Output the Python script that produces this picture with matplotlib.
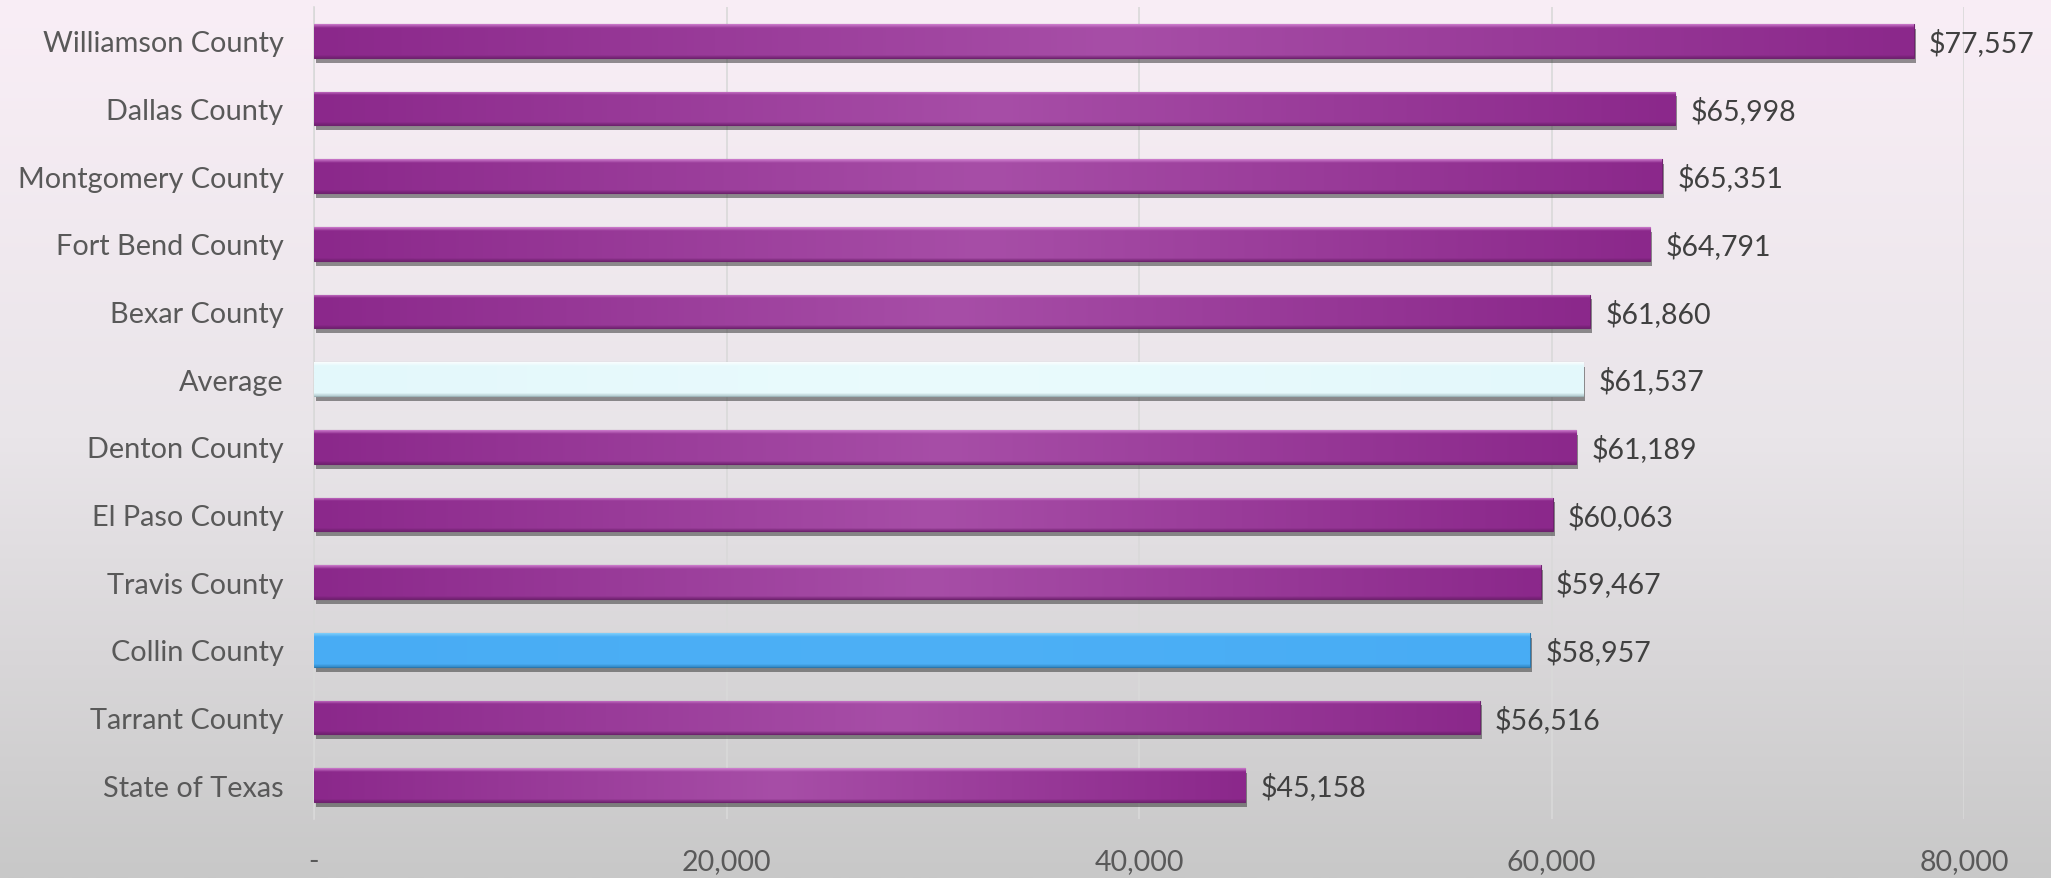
import numpy as np
import matplotlib
matplotlib.use("Agg")
import matplotlib.pyplot as plt
import matplotlib.patheffects as pe
from matplotlib.colors import to_rgb

# ---- data ----
categories = ["Williamson County", "Dallas County", "Montgomery County", "Fort Bend County",
              "Bexar County", "Average", "Denton County", "El Paso County", "Travis County",
              "Collin County", "Tarrant County", "State of Texas"]
values = [77557, 65998, 65351, 64791, 61860, 61537, 61189, 60063, 59467, 58957, 56516, 45158]
xticks = [0, 20000, 40000, 60000, 80000]
xtick_labels = ["-", "20,000", "40,000", "60,000", "80,000"]

plt.rcParams['font.family'] = ['Lato', 'DejaVu Sans']

W, H, DPI = 2051, 879, 100
fig = plt.figure(figsize=(W / DPI, H / DPI), dpi=DPI)

# background gradient
bg = fig.add_axes([0, 0, 1, 1], zorder=-10)
stops_pos = [0.0, 0.5, 1.0]
stops_col = np.array([[249, 238, 246], [233, 229, 233], [200, 200, 200]]) / 255.0
t = np.linspace(0, 1, 400)
grad = np.stack([np.interp(t, stops_pos, stops_col[:, c]) for c in range(3)], axis=1)
bg.imshow(grad[:, None, :], aspect='auto', extent=[0, 1, 0, 1], origin='upper')
bg.set_axis_off()

ax = fig.add_axes([314 / W, 1 - 820 / H, (1964 - 314) / W, (820 - 8) / H])
ax.patch.set_alpha(0)

n = len(categories)
ypos = np.arange(n)
bar_h = 0.5


def style_for(name):
    if name == "Average":
        return dict(dark='#E3F8FB', light='#EAFBFD', top='#FFFFFF', bottom='#A8C0C4', edge='#9FB6BA')
    if name == "Collin County":
        return dict(dark='#48ACF4', light='#4DB0F6', top='#8ED8FC', bottom='#2D7FB8', edge='#2B78AE')
    return dict(dark='#8B288B', light='#A74EA7', top='#DB8EDB', bottom='#6A1E6A', edge='#6E226E')


bars = ax.barh(ypos, values, height=bar_h, color='none', zorder=3)
for b, name, v, y in zip(bars, categories, values, ypos):
    st = style_for(name)
    b.set_facecolor(st['dark'])
    b.set_edgecolor(st['edge'])
    b.set_linewidth(0.8)
    b.set_path_effects([pe.SimplePatchShadow(offset=(1.5, -3.5), shadow_rgbFace='#3a3a3a', alpha=0.55),
                        pe.Normal()])
    # gradient image for bevel look
    nx, ny = 300, 40
    xs = np.linspace(0, 1, nx)
    dark = np.array(to_rgb(st['dark']))
    light = np.array(to_rgb(st['light']))
    f = 1 - np.abs(xs - 0.5) * 2  # 0 at ends, 1 at middle
    row = dark[None, :] * (1 - f[:, None]) + light[None, :] * f[:, None]
    img = np.repeat(row[None, :, :], ny, axis=0)
    top = np.array(to_rgb(st['top']))
    bot = np.array(to_rgb(st['bottom']))
    for k in range(4):
        a = 0.75 - k * 0.18
        img[k] = img[k] * (1 - a) + top * a
    for k in range(3):
        a = 0.7 - k * 0.2
        img[ny - 1 - k] = img[ny - 1 - k] * (1 - a) + bot * a
    im = ax.imshow(img, extent=[0, v, y + bar_h / 2, y - bar_h / 2], aspect='auto',
                   zorder=3.5, interpolation='bilinear')
    im.set_clip_path(b)
    ax.annotate(f"${v:,.0f}", xy=(v, y), xytext=(11, -1), textcoords='offset points',
                va='center', ha='left', fontsize=20.5, color='#404040', zorder=5)

ax.set_xlim(0, 80000)
ax.set_ylim(n - 0.5, -0.5)
ax.set_yticks(ypos)
ax.set_yticklabels(categories, fontsize=20.8, color='#595959')
ax.set_xticks(xticks)
ax.set_xticklabels(xtick_labels, fontsize=20.5, color='#595959')
ax.tick_params(axis='y', length=0, pad=22)
ax.tick_params(axis='x', length=0, pad=21)
ax.grid(axis='x', color='#D9D9D9', linewidth=1.2, zorder=0)
ax.set_axisbelow(True)
for s in ['top', 'right', 'bottom']:
    ax.spines[s].set_visible(False)
ax.spines['left'].set_color('#D9D9D9')
ax.spines['left'].set_linewidth(1.2)

fig.savefig("out.png", dpi=DPI)
